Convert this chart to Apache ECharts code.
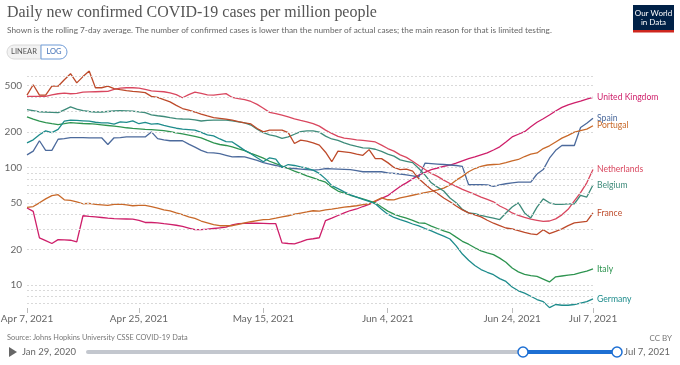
<!DOCTYPE html>
<html><head><meta charset="utf-8">
<script src="https://cdn.jsdelivr.net/npm/echarts@6/dist/echarts.min.js"></script>
<style>html,body{margin:0;padding:0;background:#fff;}#c{width:680px;height:365px;}</style>
</head><body><div id="c"></div>
<script>
// ---- data (rolling 7-day average, cases per million) ----
const startDate = [2021, 3, 7]; // Apr 7, 2021 (month 0-based)
const tickLabels = ['Apr 7, 2021','Apr 25, 2021','May 15, 2021','Jun 4, 2021','Jun 24, 2021','Jul 7, 2021'];
const yLabelValues = [10, 20, 50, 100, 200, 500];
const yGridValues = [7, 8, 9, 10, 20, 30, 40, 50, 60, 70, 80, 90, 100, 200, 300, 400, 500, 600];
const countries = ['United Kingdom','Spain','Portugal','Netherlands','Belgium','France','Italy','Germany'];

const unitedKingdom = [45.2,42.3,25.1,23.8,22.5,24.3,24.2,24,23.2,38.8,
 38.3,38,37.5,37,36.6,36.5,36.4,36.3,35.5,34,
 34,33.8,33.2,32.8,32.2,31.5,30.5,29.5,29.6,29.8,
 30.2,30.6,31,32.5,33.2,33.4,33.6,33.5,33.4,33.3,
 33.2,22.8,22.5,22.3,23.2,24.3,24.7,25.2,35.3,37,
 39,41,43,44.3,46.5,48.5,51.5,54.5,57.5,63,
 69,74,80,86,91,96,99,102,105,109,
 114,119,123,128,133,141,150,165,182,192,
 202,222,243,260,280,303,325,342,355,368,
 382,396];
const spain = [128,138,169,140,140,174,176,180,180,180,
 179,179,179,157,179,180,182,182,182,182,
 201,176,172,169,169,169,158,149,140,134,
 133,131,127,123,124,123,119,115,110,107,
 104,101,99,98,97,96,95,96,98,97.5,
 97,96.5,96,94,92,92,92,92,90,89,
 88,86.5,85,83,109,108,107,106,105,104,
 102,71.3,71.3,71.3,71,69,71,72.7,74,75,
 75,75,88,96,120,140,154,154,154,219,
 238,263];
const portugal = [45.7,46.5,50,54,57.5,58.6,53,52.5,51,49.1,
 49.5,48.5,48,47.5,48.5,48.8,48,47.2,47.5,47.5,
 46.5,45,43.5,42.7,41,39.6,38,36.8,35,33.8,
 32.6,31.9,31.9,31.9,32.8,33.7,34.5,35.2,35.9,36.2,
 37,38,38.8,40,40.9,41.8,42.8,42.5,43.5,44.1,
 45,46,46.5,47.2,48.2,49.1,52,55,53.1,53,
 55,56.5,58,59.5,61,62.5,64.5,66.8,71,78,
 84,92,98,102,105,106,107,110,114,117,
 124,130,133,145,153,165,178,188,200,206,
 212,227];
const netherlands = [404,404,404,404,415,425,431,425,428,438,
 440,442,444,446,462,475,478,478,474,462,
 449,446,442,432,418,393,418,438,428,415,
 413,420,426,395,386,378,365,345,320,295,
 288,280,270,260,252,245,236,225,208,195,
 184,178,175,172,170,168,165,155,145,138,
 128,122,113,104,96,89,84,78,73,69,
 65,62,59,56,53.5,51,47,44.3,41,39,
 37.5,36.3,35.5,34.7,35,36.5,39.5,44,52,61,
 74,96];
const belgium = [311,305,298,297,295,293,310,328,315,305,
 300,297,297,300,303,305,304,302,298,293,
 281,276,272,266,261,259,258,254,249,252,
 253,253,253,250,245,240,230,212,198,190,
 185,177,182,192,202,205,205,200,185,175,
 170,162,156,151,147,146,143,137,130,125,
 116,113,110,98,86,74,68,63,55,50,
 44,41,40.5,39,38,37,36,41,46,50,
 41,37.2,46,54,50,48.5,48.5,49,49,58,
 56,71];
const france = [413,507,413,413,493,493,560,630,526,595,
 664,478,478,493,469,460,452,445,440,434,
 404,395,378,362,338,318,308,297,285,275,
 266,262,258,253,246,240,235,215,201,208,
 208,208,198,160,171,168,162,155,135,112,
 138,136,134,130,127,142,119,119,110,100,
 96,97,93,80,72,65,60,55,51,47,
 43.5,41,39.5,38,35.5,33.5,32,30.5,30,29,
 28,27.2,26.8,29.5,27.3,28.5,30,32,33.7,34.2,
 34.7,41];
const italy = [270,258,248,241,236,232,236,241,239,237,
 236,234,231,228,225,222,218,215,213,211,
 210,208,206,202,197,193,189,184,179,170,
 162,157,154,150,144,139,132,126,120,113,
 108,103,98,93,89,85,81.5,78,75,68,
 63,60.5,58,56,54,52,50,46,42.5,40,
 38.3,37,35.5,33.7,33.5,31.7,30.2,28.8,27.7,25.5,
 23.5,22.2,20.7,19.5,18.7,18.1,16.9,15.6,13.9,12.9,
 12.3,12,11.8,11.2,10.6,11.7,11.9,12.1,12.3,12.7,
 13.1,13.7];
const germany = [162,172,190,205,198,211,248,253,252,250,
 248,243,240,240,234,245,242,250,236,242,
 234,236,228,222,216,212,210,208,199,190,
 186,175,166,165,152,140,131,121,112,121,
 118,100,106,104,101,98.5,95,89,80,70,
 66,62,58.5,56,53.5,51.5,49,44,40,37.5,
 35.9,34.5,33,31.8,30.2,28.8,27.3,26,24.6,21.5,
 18.3,16.2,14.6,13.5,12.8,12.2,11.3,10.7,9.6,8.9,
 8.5,8,7.5,7.2,6.4,6.8,6.7,6.7,6.8,7,
 7.2,7.6];

const seriesValues = [unitedKingdom, spain, portugal, netherlands, belgium, france, italy, germany];
const colors = ['#CE1F6A','#4C6A9C','#C8692A','#D9475F','#3E8B7A','#BD4A2A','#2E9450','#1E8C8C'];

// ---- build categories (daily dates) ----
const MONTHS = ['Jan','Feb','Mar','Apr','May','Jun','Jul','Aug','Sep','Oct','Nov','Dec'];
const categories = unitedKingdom.map((_, i) => {
  const d = new Date(Date.UTC(startDate[0], startDate[1], startDate[2] + i));
  return MONTHS[d.getUTCMonth()] + ' ' + d.getUTCDate() + ', ' + d.getUTCFullYear();
});

const FONT = 'Lato, "Noto Sans", sans-serif';
const mctx = document.createElement('canvas').getContext('2d');
function fitSize(text, family, target) {
  mctx.font = '100px ' + family;
  return 100 * target / mctx.measureText(text).width;
}

const titleText = 'Daily new confirmed COVID-19 cases per million people';
const subText = 'Shown is the rolling 7-day average. The number of confirmed cases is lower than the number of actual cases; the main reason for that is limited testing.';
const sourceText = 'Source: Johns Hopkins University CSSE COVID-19 Data';
const TITLE_FONT = '"Liberation Serif", "DejaVu Serif", serif';

const chart = echarts.init(document.getElementById('c'), null, {renderer: 'canvas'});
const isTick = (i, v) => tickLabels.indexOf(v) >= 0;

const series = countries.map((name, k) => ({
  name, type: 'line', data: seriesValues[k], showSymbol: false, symbol: 'none',
  z: 3, silent: true, emphasis: {disabled: true},
  lineStyle: {width: 1.3, color: colors[k]}, itemStyle: {color: colors[k]},
  endLabel: {show: true, formatter: '{a}', color: colors[k], fontFamily: FONT, fontSize: 8.6, distance: 4}
}));
series.unshift({
  name: 'grid', type: 'line', data: [], z: 1, silent: true,
  markLine: {
    silent: true, symbol: ['none','none'], animation: false,
    lineStyle: {color: '#d9d9d9', type: [2, 2], width: 1},
    label: {show: true, position: 'start', distance: 5, color: '#666', fontFamily: FONT, fontSize: 10,
      formatter: p => yLabelValues.indexOf(p.value) >= 0 ? String(p.value) : ''},
    emphasis: {disabled: true},
    data: yGridValues.map(v => ({yAxis: v}))
  }
});

chart.setOption({
  animation: false,
  color: colors,
  grid: {left: 27, right: 87, top: 71, bottom: 57, containLabel: false, outerBoundsMode: 'none'},
  xAxis: {
    type: 'category', data: categories, boundaryGap: false,
    axisLine: {show: false},
    axisTick: {show: true, interval: isTick, length: 5, lineStyle: {color: '#bbb'}},
    axisLabel: {interval: isTick, color: '#666', fontFamily: FONT, fontSize: 10, margin: 6, showMaxLabel: true, showMinLabel: true}
  },
  yAxis: {
    type: 'log', logBase: 10, min: 6.35, max: 664,
    axisLabel: {show: false}, splitLine: {show: false}, axisLine: {show: false}, axisTick: {show: false}
  },
  series,
  graphic: [
    {type: 'text', left: 7, top: 5, style: {text: titleText, fill: '#555', font: 'normal ' + fitSize(titleText, TITLE_FONT, 370).toFixed(2) + 'px ' + TITLE_FONT}},
    {type: 'text', left: 7, top: 26, style: {text: subText, fill: '#666', font: 'normal ' + fitSize(subText, FONT, 546).toFixed(2) + 'px ' + FONT}},
    // LINEAR / LOG toggle
    {type: 'rect', shape: {x: 7, y: 45, width: 34, height: 14, r: [7, 0, 0, 7]}, style: {fill: '#f2f2f2', stroke: '#d8d8d8', lineWidth: 1}},
    {type: 'rect', shape: {x: 41, y: 45, width: 26, height: 14, r: [0, 7, 7, 0]}, style: {fill: '#fff', stroke: '#6f9bd6', lineWidth: 1}},
    {type: 'text', x: 24, y: 52, style: {text: 'LINEAR', fill: '#555', font: '7.5px ' + FONT, align: 'center', verticalAlign: 'middle'}},
    {type: 'text', x: 54, y: 52, style: {text: 'LOG', fill: '#3d6db5', font: '7.5px ' + FONT, align: 'center', verticalAlign: 'middle'}},
    // logo
    {type: 'rect', shape: {x: 633, y: 5, width: 41, height: 27}, style: {fill: '#002147'}},
    {type: 'rect', shape: {x: 633, y: 30, width: 41, height: 2.5}, style: {fill: '#ce261e'}},
    {type: 'text', x: 653.5, y: 13, style: {text: 'Our World', fill: '#fff', font: '8px ' + FONT, align: 'center', verticalAlign: 'middle'}},
    {type: 'text', x: 653.5, y: 22, style: {text: 'in Data', fill: '#fff', font: '8px ' + FONT, align: 'center', verticalAlign: 'middle'}},
    // footer
    {type: 'text', x: 7, y: 338, style: {text: sourceText, fill: '#777', font: fitSize(sourceText, FONT, 181).toFixed(2) + 'px ' + FONT, verticalAlign: 'middle'}},
    {type: 'text', x: 672, y: 338, style: {text: 'CC BY', fill: '#777', font: '8px ' + FONT, align: 'right', verticalAlign: 'middle'}},
    // timeline
    {type: 'polygon', shape: {points: [[9, 347], [9, 357], [17, 352]]}, style: {fill: '#666'}},
    {type: 'text', x: 22, y: 352, style: {text: 'Jan 29, 2020', fill: '#666', font: '9.5px ' + FONT, verticalAlign: 'middle'}},
    {type: 'line', shape: {x1: 88, y1: 352, x2: 617, y2: 352}, style: {stroke: '#c3c7ce', lineWidth: 4, lineCap: 'round'}},
    {type: 'line', shape: {x1: 523, y1: 352, x2: 617, y2: 352}, style: {stroke: '#1d6fd3', lineWidth: 4}},
    {type: 'circle', shape: {cx: 523, cy: 352, r: 5}, style: {fill: '#fff', stroke: '#1d6fd3', lineWidth: 1.5}},
    {type: 'circle', shape: {cx: 617, cy: 352, r: 5}, style: {fill: '#fff', stroke: '#1d6fd3', lineWidth: 1.5}},
    {type: 'text', x: 624, y: 352, style: {text: 'Jul 7, 2021', fill: '#666', font: '9.5px ' + FONT, verticalAlign: 'middle'}}
  ]
});
</script>
</body></html>
